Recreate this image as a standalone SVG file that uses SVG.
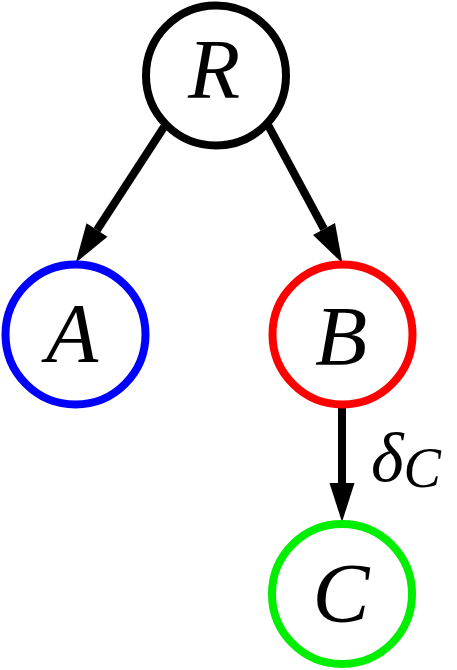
<svg xmlns="http://www.w3.org/2000/svg" width="457" height="670" viewBox="0 0 457 670" xml:lang="en">
<style>
.node circle{fill:#fff;stroke-width:8}
.edge{stroke:#000;stroke-width:8;fill:none}
</style>
<defs>
<marker id="ah" markerUnits="userSpaceOnUse" markerWidth="40" markerHeight="26" refX="0" refY="13" orient="auto" overflow="visible">
<path d="M0,0.5 L39,13 L0,25.5 Z" fill="#000"/>
</marker>
</defs>
<rect width="457" height="670" fill="#fff"/>
<g id="connectors">
<path class="edge" d="M164,127 L97,230" marker-end="url(#ah)"/>
<path class="edge" d="M268,125 L324,229" marker-end="url(#ah)"/>
<path class="edge" d="M342,405 L342,483" marker-end="url(#ah)"/>
<text x="371" y="481" font-family="Liberation Serif, Times New Roman, serif" font-style="italic" font-size="70" transform="translate(0,0)" fill="#000">&#948;<tspan font-size="56" dy="6">C</tspan></text>
</g>
<g id="R" class="node"><circle cx="216" cy="75.5" r="70" stroke="#000"/><text x="214" y="98" font-family="Liberation Serif, Times New Roman, serif" font-style="italic" font-size="70" text-anchor="middle" transform="translate(214,98) scale(1.22) translate(-214,-98)">R</text></g>
<g id="A" class="node"><circle cx="75.5" cy="334.5" r="70" stroke="#0000ff"/><text x="72" y="362" font-family="Liberation Serif, Times New Roman, serif" font-style="italic" font-size="70" text-anchor="middle" transform="translate(72,362) scale(1.22) translate(-72,-362)">A</text></g>
<g id="B" class="node"><circle cx="342.5" cy="334.5" r="70" stroke="#ff0000"/><text x="341" y="365" font-family="Liberation Serif, Times New Roman, serif" font-style="italic" font-size="70" text-anchor="middle" transform="translate(341,365) scale(1.22) translate(-341,-365)">B</text></g>
<g id="C" class="node"><circle cx="342" cy="594" r="70" stroke="#00ee00"/><text x="341" y="622" font-family="Liberation Serif, Times New Roman, serif" font-style="italic" font-size="70" text-anchor="middle" transform="translate(341,622) scale(1.22) translate(-341,-622)">C</text></g>
</svg>
